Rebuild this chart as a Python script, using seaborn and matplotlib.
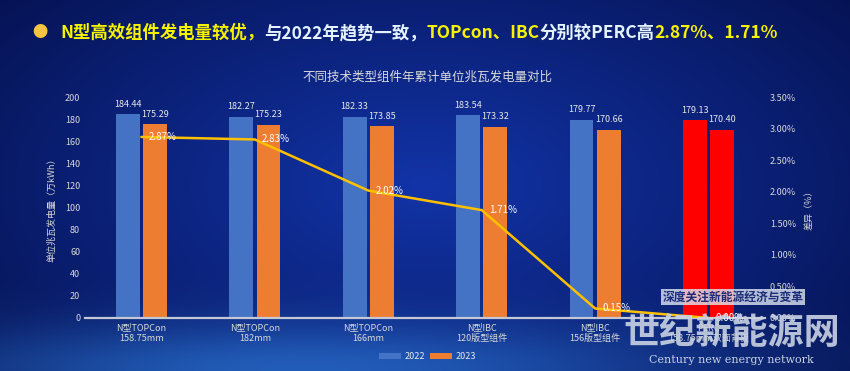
import numpy as np
import pandas as pd
import matplotlib
matplotlib.use("Agg")
import matplotlib.pyplot as plt
import seaborn as sns

# chart data
categories = ["N型TOPCon\n158.75mm", "N型TOPCon\n182mm", "N型TOPCon\n166mm",
              "N型IBC\n120版型组件", "N型IBC\n156版型组件", "PERC\n158.75mm双面背板"]
years = ["2022", "2023"]
gen_2022 = [184.44, 182.27, 182.33, 183.54, 179.77, 179.13]
gen_2023 = [175.29, 175.23, 173.85, 173.32, 170.66, 170.40]
diff_pct = [2.87, 2.83, 2.02, 1.71, 0.15, 0.00]

left_ticks = list(range(0, 201, 20))
right_ticks = [0.0, 0.5, 1.0, 1.5, 2.0, 2.5, 3.0, 3.5]

headline = [("N型高效组件发电量较优，", "#f7f200"),
            ("与2022年趋势一致，", "#e4f3ff"),
            ("TOPcon、IBC", "#f7f200"),
            ("分别较PERC高", "#e4f3ff"),
            ("2.87%、1.71%", "#f7f200")]

df = pd.DataFrame({
    "类型": categories * 2,
    "年份": [years[0]] * len(categories) + [years[1]] * len(categories),
    "发电量": gen_2022 + gen_2023,
})
diff_df = pd.DataFrame({"类型": categories, "差异": diff_pct})

sns.set_theme(style="dark")
plt.rcParams['font.family'] = ['Noto Sans CJK SC', 'DejaVu Sans']
plt.rcParams['axes.unicode_minus'] = False

fig = plt.figure(figsize=(8.5, 3.71), dpi=100)

# dark blue background with a lighter glow in the middle and at the bottom
bg = fig.add_axes([0, 0, 1, 1], zorder=-10)
yy, xx = np.mgrid[0:1:300j, 0:1:600j]
r = np.clip(np.sqrt(((xx - 0.5) / 0.75) ** 2 + ((yy - 0.5) / 0.9) ** 2), 0, 1)
inner = np.array([0x12, 0x34, 0xa8]) / 255
outer = np.array([0x04, 0x0e, 0x48]) / 255
img = inner[None, None, :] * (1 - r[..., None]) + outer[None, None, :] * r[..., None]
glow = np.exp(-(((xx - 0.35) / 0.45) ** 2 + ((yy - 0.0) / 0.13) ** 2))
light = np.array([0x2c, 0x78, 0xd8]) / 255
img = img * (1 - 0.7 * glow[..., None]) + light[None, None, :] * 0.7 * glow[..., None]
bg.imshow(img, aspect="auto", extent=[0, 1, 0, 1], origin="lower")
bg.set_axis_off()

ax = fig.add_axes([0.1, 0.143, 0.8, 0.595])
ax.set_facecolor("none")
sns.barplot(data=df, x="类型", y="发电量", hue="年份", palette=["#4472c4", "#ed7d31"],
            width=0.48, gap=0.13, linewidth=0, saturation=1, ax=ax)

# PERC reference bars are highlighted in red
for cont in ax.containers:
    cont[-1].set_facecolor("#ff0000")
    ax.bar_label(cont, fmt="%.2f", padding=4, color="#e8e8e8", fontsize=6.5)

ax.set_ylim(0, 200)
ax.set_yticks(left_ticks)
ax.set_xlabel("")
ax.set_ylabel("单位兆瓦发电量（万kWh）", fontsize=6.5, color="#d8d8d8", labelpad=6)
ax.tick_params(axis="both", length=0, colors="#d8d8d8", labelsize=6.5)
ax.tick_params(axis="x", pad=4)
for s in ["top", "left", "right"]:
    ax.spines[s].set_visible(False)
ax.spines["bottom"].set_color("#c4c8d4")
ax.spines["bottom"].set_linewidth(1.6)
ax.grid(False)

sns.move_legend(ax, loc="center", bbox_to_anchor=(0.504, -0.176), ncol=2, frameon=False,
                title=None, fontsize=6.5, handlelength=2.4, handleheight=0.6,
                columnspacing=0.6, handletextpad=0.4)
for txt in ax.get_legend().get_texts():
    txt.set_color("#e8e8e8")

ax2 = ax.twinx()
sns.lineplot(data=diff_df, x="类型", y="差异", sort=False, color="#ffc000", linewidth=1.8, ax=ax2)
for i, v in enumerate(diff_pct):
    ax2.annotate(f"{v:.2f}%", (i, v), xytext=(5, 0), textcoords="offset points",
                 ha="left", va="center", color="white", fontsize=7)
ax2.set_ylim(0, 3.5)
ax2.set_yticks(right_ticks)
ax2.set_yticklabels([f"{t:.2f}%" for t in right_ticks])
ax2.set_ylabel("差异（%）", fontsize=6.5, color="#d8d8d8", rotation=90, labelpad=6)
ax2.tick_params(axis="y", length=0, colors="#d8d8d8", labelsize=6.5)
for s in ax2.spines.values():
    s.set_visible(False)
ax2.grid(False)

# headline with coloured pieces
fig.text(40 / 850, 1 - 33 / 371, "●", color="#f5c542", fontsize=11, ha="center", va="center")
t = fig.text(60 / 850, 1 - 33 / 371, headline[0][0], color=headline[0][1], fontsize=12.5,
             fontweight="bold", va="center")
for s, c in headline[1:]:
    t = ax.annotate(s, xy=(1, 0), xycoords=t, va="bottom", ha="left", color=c,
                    fontsize=12.5, fontweight="bold", annotation_clip=False)

fig.text(0.503, 1 - 77 / 371, "不同技术类型组件年累计单位兆瓦发电量对比", ha="center", va="center",
         fontsize=9, color="#d9d9d9")

# site watermark
fig.text(733 / 850, 1 - 297 / 371, "深度关注新能源经济与变革", ha="center", va="center", fontsize=8.5,
         fontweight="bold", color="#1c2c78",
         bbox=dict(boxstyle="square,pad=0.15", fc="#dfe6f2", ec="none", alpha=0.8))
fig.text(732 / 850, 1 - 333 / 371, "世纪新能源网", ha="center", va="center", fontsize=26,
         fontweight="bold", color="#c9d2e4", alpha=0.9)
fig.text(731 / 850, 1 - 360 / 371, "Century new energy network", ha="center", va="center",
         fontsize=8, color="#c9d2e4", family="DejaVu Serif")

fig.savefig("out.png", dpi=100)
